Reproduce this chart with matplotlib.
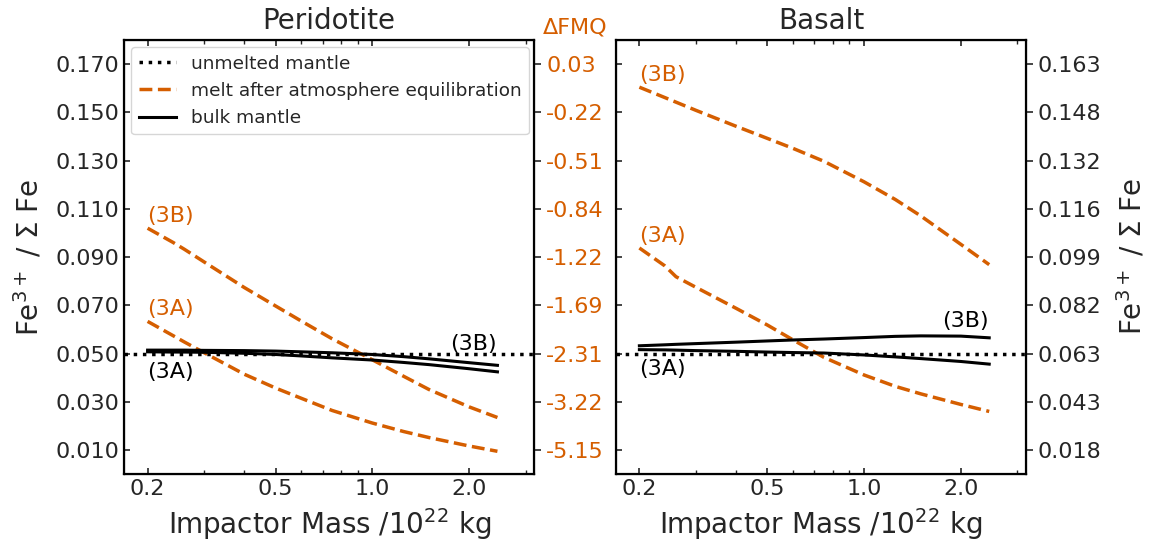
import numpy as np
import matplotlib.pyplot as plt
from matplotlib.ticker import FixedLocator, NullFormatter

# masa impaktora /1e22 kg
mass = [0.2, 0.24, 0.26, 0.3, 0.4, 0.5, 0.6, 0.75, 1.0, 1.25, 1.5, 2.0, 2.45]

# Peridotite: Fe3+/sum Fe
per_melt_3A = [0.0634, 0.0575, 0.0549, 0.0504, 0.0415, 0.0358, 0.0316, 0.0265, 0.0213, 0.0178, 0.0153, 0.0118, 0.0096]
per_melt_3B = [0.1020, 0.0961, 0.0933, 0.0880, 0.0774, 0.0698, 0.0636, 0.0562, 0.0475, 0.0407, 0.0352, 0.0280, 0.0236]
per_bulk_3A = [0.0508, 0.0507, 0.0507, 0.0506, 0.0502, 0.0497, 0.0491, 0.0483, 0.0474, 0.0464, 0.0455, 0.0438, 0.0425]
per_bulk_3B = [0.0515, 0.0515, 0.0515, 0.0514, 0.0513, 0.0511, 0.0508, 0.0504, 0.0497, 0.0488, 0.0479, 0.0463, 0.0452]

# Basalt (w tej samej skali osi)
bas_melt_3A = [0.0938, 0.0864, 0.0819, 0.0775, 0.0688, 0.0619, 0.0558, 0.0485, 0.0412, 0.0365, 0.0334, 0.0290, 0.0261]
bas_melt_3B = [0.1604, 0.1561, 0.1542, 0.1508, 0.1442, 0.1392, 0.1351, 0.1297, 0.1212, 0.1139, 0.1071, 0.0953, 0.0869]
bas_bulk_3A = [0.0517, 0.0516, 0.0515, 0.0513, 0.0510, 0.0507, 0.0505, 0.0503, 0.0495, 0.0487, 0.0480, 0.0468, 0.0457]
bas_bulk_3B = [0.0533, 0.0537, 0.0539, 0.0542, 0.0548, 0.0553, 0.0557, 0.0561, 0.0567, 0.0572, 0.0574, 0.0573, 0.0566]

unmelted = 0.050

yticks = [0.010, 0.030, 0.050, 0.070, 0.090, 0.110, 0.130, 0.150, 0.170]
fmq_labels = ['-5.15', '-3.22', '-2.31', '-1.69', '-1.22', '-0.84', '-0.51', '-0.22', '0.03']
basalt_labels = ['0.018', '0.043', '0.063', '0.082', '0.099', '0.116', '0.132', '0.148', '0.163']
xticks = [0.2, 0.5, 1.0, 2.0]

orange = '#D55E00'
txt = '#262626'
plt.rcParams['text.color'] = txt
plt.rcParams['axes.labelcolor'] = txt
plt.rcParams['xtick.color'] = txt
plt.rcParams['ytick.color'] = txt

fig = plt.figure(figsize=(11.49, 5.46), dpi=100)
ax1 = fig.add_axes([0.108, 0.131, 0.357, 0.796])
ax2 = fig.add_axes([0.536, 0.131, 0.357, 0.796])

panels = [
    (ax1, 'Peridotite', per_melt_3A, per_melt_3B, per_bulk_3A, per_bulk_3B),
    (ax2, 'Basalt', bas_melt_3A, bas_melt_3B, bas_bulk_3A, bas_bulk_3B),
]

for ax, title, m3a, m3b, b3a, b3b in panels:
    ax.axhline(unmelted, color='k', ls=':', lw=2.5, label='unmelted mantle')
    ax.plot(mass, m3a, color=orange, ls='--', lw=2.5, label='melt after atmosphere equilibration')
    ax.plot(mass, m3b, color=orange, ls='--', lw=2.5)
    ax.plot(mass, b3a, color='k', lw=2.2, label='bulk mantle')
    ax.plot(mass, b3b, color='k', lw=2.2)
    ax.set_xscale('log')
    ax.set_xlim(0.169, 3.19)
    ax.set_ylim(0, 0.18)
    ax.xaxis.set_major_locator(FixedLocator(xticks))
    ax.set_xticklabels([f'{t:.1f}' for t in xticks])
    ax.xaxis.set_minor_formatter(NullFormatter())
    ax.set_yticks(yticks)
    ax.tick_params(which='both', direction='in', top=True, right=False, labelsize=16)
    ax.tick_params(which='major', length=4.5, width=1.2)
    ax.tick_params(which='minor', length=3, width=1.0)
    for s in ax.spines.values():
        s.set_linewidth(1.6)
    ax.set_title(title, fontsize=20, pad=8)
    ax.set_xlabel('Impactor Mass /10$^{22}$ kg', fontsize=20, labelpad=5)

    tw = ax.twinx()
    tw.set_ylim(0, 0.18)
    tw.set_yticks(yticks)
    tw.tick_params(axis='y', direction='out', length=5, width=1.2, labelsize=16)

    if ax is ax1:
        tw.set_yticklabels(fmq_labels)
        tw.tick_params(axis='y', labelcolor=orange)
    else:
        tw.set_yticklabels(basalt_labels)

# Peridotite
ax1.set_yticklabels([f'{t:.3f}' for t in yticks])
ax1.set_ylabel('Fe$^{3+}$ / $\\Sigma$ Fe', fontsize=20, labelpad=8)
ax1.legend(loc='upper left', fontsize=13.3, edgecolor='0.8', borderaxespad=0.4)
ax1.text(1.10, 1.028, 'ΔFMQ', transform=ax1.transAxes, ha='center', va='center',
         color=orange, fontsize=16)
ax1.text(0.2, 0.107, '(3B)', color=orange, fontsize=16, va='center')
ax1.text(0.2, 0.0686, '(3A)', color=orange, fontsize=16, va='center')
ax1.text(0.2, 0.0425, '(3A)', color='k', fontsize=16, va='center')
ax1.text(1.74, 0.0541, '(3B)', color='k', fontsize=16, va='center')

# Basalt
ax2.tick_params(axis='y', labelleft=False)
fig.text(0.985, 0.53, 'Fe$^{3+}$ / $\\Sigma$ Fe', rotation=90, ha='center', va='center',
         fontsize=20, color=txt)
ax2.text(0.2, 0.1656, '(3B)', color=orange, fontsize=16, va='center')
ax2.text(0.2, 0.0989, '(3A)', color=orange, fontsize=16, va='center')
ax2.text(0.2, 0.0438, '(3A)', color='k', fontsize=16, va='center')
ax2.text(1.75, 0.0637, '(3B)', color='k', fontsize=16, va='center')

plt.savefig('out.png', dpi=100)
